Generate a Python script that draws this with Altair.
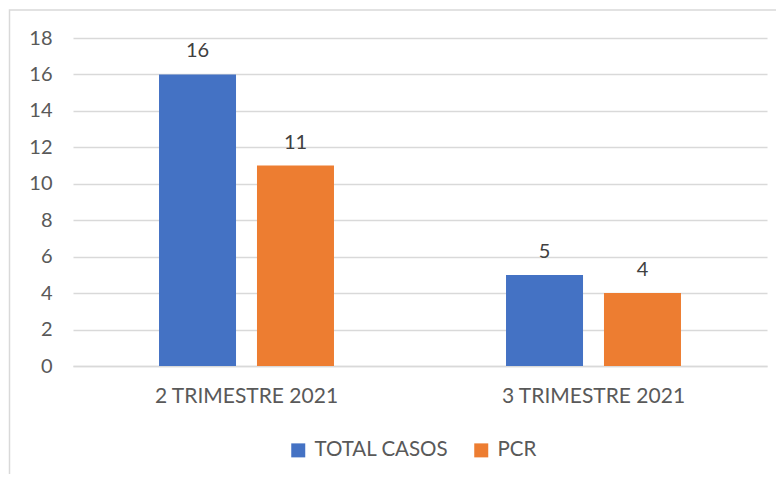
import altair as alt
import pandas as pd

categories = ["2 TRIMESTRE 2021", "3 TRIMESTRE 2021"]
series = ["TOTAL CASOS", "PCR"]
total_casos = [16, 5]
pcr = [11, 4]
colors = ["#4472C4", "#ED7D31"]
y_ticks = [0, 2, 4, 6, 8, 10, 12, 14, 16, 18]
title_text = "terceiro trimestres de 2021."

rows = []
for i, c in enumerate(categories):
    rows.append({"trimestre": c, "serie": series[0], "valor": total_casos[i]})
    rows.append({"trimestre": c, "serie": series[1], "valor": pcr[i]})
df = pd.DataFrame(rows)

FONT = "Lato"
TXT = "#595959"

base = alt.Chart(df).encode(
    x=alt.X(
        "trimestre:N",
        sort=categories,
        scale=alt.Scale(paddingInner=0, paddingOuter=0),
        axis=alt.Axis(
            title=None, labelAngle=0, ticks=False, domain=True,
            domainColor="#d9d9d9", domainWidth=1.5, labelFontSize=21,
            labelColor=TXT, labelPadding=19, labelFont=FONT, labelLimit=400,
        ),
    ),
    xOffset=alt.XOffset(
        "serie:N", sort=series,
        scale=alt.Scale(paddingInner=0.214, paddingOuter=0.878),
    ),
    y=alt.Y(
        "valor:Q",
        scale=alt.Scale(domain=[0, 18]),
        axis=alt.Axis(
            values=y_ticks, title=None, ticks=False, domain=False,
            gridColor="#d9d9d9", gridWidth=1.5, labelFontSize=20,
            labelColor=TXT, labelPadding=21, labelFont=FONT,
        ),
    ),
)

bars = base.mark_bar().encode(
    color=alt.Color(
        "serie:N",
        sort=series,
        scale=alt.Scale(domain=series, range=colors),
        legend=alt.Legend(
            title=None, orient="none", legendX=215, legendY=402,
            direction="horizontal", symbolType="square", symbolSize=196,
            symbolStrokeWidth=0, labelFontSize=20.5, labelColor=TXT,
            labelFont=FONT, columnPadding=22, labelOffset=6, padding=0,
            labelLimit=400,
        ),
    )
)

labels = base.mark_text(
    dy=-17, baseline="alphabetic", fontSize=20, color="#404040", font=FONT
).encode(text="valor:Q")

frame = alt.Chart(pd.DataFrame({"a": [0]})).mark_rect(
    filled=False, stroke="#d9d9d9", strokeWidth=1.5
).encode(
    x=alt.value(-63.5), x2=alt.value(760),
    y=alt.value(-28), y2=alt.value(520),
)

chart = alt.layer(frame, bars, labels).properties(
    width=694,
    height=328,
    padding={"left": 65, "top": 30, "right": 9, "bottom": 108},
    autosize=alt.AutoSizeParams(type="none"),
    title=alt.TitleParams(
        title_text, fontSize=26, font="Liberation Sans", fontWeight="normal",
        color="#333333", anchor="middle", dx=-27, offset=32,
        baseline="alphabetic",
    ),
).configure_view(strokeWidth=0)

chart.save("out.html", embed_options={"renderer": "svg", "actions": False})
